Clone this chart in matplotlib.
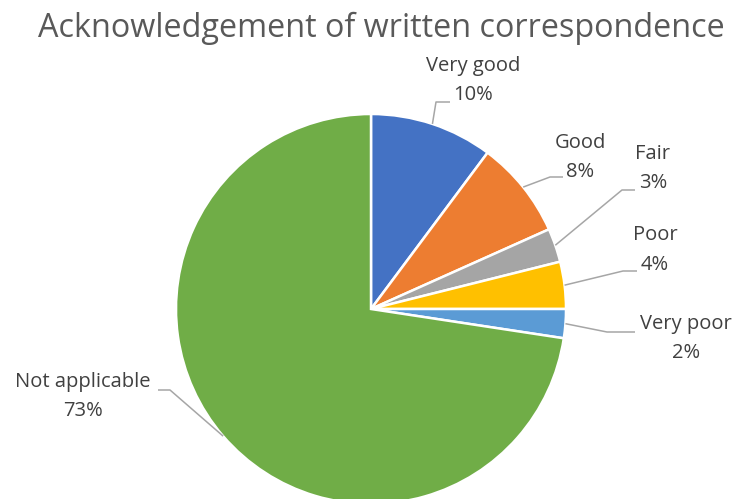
import numpy as np
import matplotlib.pyplot as plt

labels = ["Very good", "Good", "Fair", "Poor", "Very poor", "Not applicable"]
shares = [10.2, 8.1, 2.8, 3.9, 2.4, 72.6]
pct_text = ["10%", "8%", "3%", "4%", "2%", "73%"]
colors = ["#4472C4", "#ED7D31", "#A5A5A5", "#FFC000", "#5B9BD5", "#70AD47"]

W, H = 737, 499
# label block centres and leader elbows, in image pixels (y down)
label_pos = [(473, 80), (580, 157), (653, 168), (655, 250), (686, 339), (83, 397)]
elbows = [((436, 102), (450, 102)), ((550, 177), (563, 177)), ((622, 190), (635, 190)),
          ((623, 271), (637, 271)), ((607, 332), (635, 332)), ((170, 390), (158, 390))]

plt.rcParams['font.family'] = ['Open Sans', 'DejaVu Sans']

fig = plt.figure(figsize=(W / 100, H / 100), dpi=100)
ax = fig.add_axes([0, 0, 1, 1])

cx, cy, r = 371, H - 309, 195
wedges, _ = ax.pie(shares, colors=colors, startangle=90, counterclock=False,
                   center=(cx, cy), radius=r, frame=True,
                   wedgeprops=dict(edgecolor='white', linewidth=1.8))
ax.set_xlim(0, W)
ax.set_ylim(0, H)
ax.set_aspect('equal')
ax.axis('off')

for w, lab, pct, pos, (e1, e2) in zip(wedges, labels, pct_text, label_pos, elbows):
    mid = np.deg2rad((w.theta1 + w.theta2) / 2)
    sx, sy = cx + r * np.cos(mid), cy + r * np.sin(mid)
    ax.plot([sx, e1[0], e2[0]], [sy, H - e1[1], H - e2[1]], color='#A6A6A6', lw=1.1,
            solid_capstyle='butt', zorder=3)
    ax.text(pos[0], H - pos[1], lab + "\n" + pct, ha='center', va='center',
            multialignment='center', fontsize=14.5, color='#404040', linespacing=1.6)

fig.text(381 / W, 1 - 28 / H, "Acknowledgement of written correspondence",
         ha='center', va='center', fontsize=23.3, color='#595959')

fig.savefig("out.png", dpi=100)
